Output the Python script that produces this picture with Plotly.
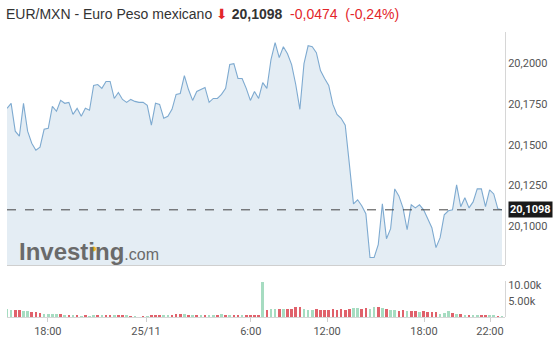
import plotly.graph_objects as go

W, H = 555, 338

# ---------------- data ----------------
price = [
    20.1724, 20.1755, 20.1583, 20.1552, 20.1755, 20.1583, 20.1509, 20.1466, 20.1485, 20.1595,
    20.1601, 20.1736, 20.1706, 20.1773, 20.1755, 20.1761, 20.1687, 20.1724, 20.1675, 20.1724,
    20.1712, 20.1865, 20.1871, 20.1847, 20.1890, 20.1890, 20.1785, 20.1822, 20.1779, 20.1761,
    20.1779, 20.1767, 20.1761, 20.1761, 20.1742, 20.1620, 20.1755, 20.1748, 20.1663, 20.1675,
    20.1718, 20.1810, 20.1816, 20.1926, 20.1840, 20.1773, 20.1828, 20.1840, 20.1853, 20.1761,
    20.1785, 20.1785, 20.1810, 20.1847, 20.1994, 20.2000, 20.1908, 20.1908, 20.1847, 20.1773,
    20.1828, 20.1785, 20.1883, 20.1847, 20.2025, 20.2129, 20.2037, 20.2104, 20.2061, 20.1994,
    20.1871, 20.1718, 20.2000, 20.2110, 20.2104, 20.2067, 20.1957, 20.1908, 20.1865, 20.1748,
    20.1687, 20.1663, 20.1620, 20.1380, 20.1135, 20.1160, 20.1123, 20.1074, 20.0804, 20.0804,
    20.0883, 20.1135, 20.0920, 20.0982, 20.1227, 20.1184, 20.1110, 20.0975, 20.1129, 20.1110,
    20.1129, 20.1098, 20.1043, 20.0988, 20.0865, 20.0926, 20.1067, 20.1092, 20.1098, 20.1252,
    20.1117, 20.1172, 20.1110, 20.1147, 20.1227, 20.1227, 20.1117, 20.1221, 20.1196, 20.1104,
    20.1098,
]

volume_k = [
    2.3, 2.2, 2.0, 2.1, 1.9, 1.8, 1.6, 1.4, 1.2, 1.0, 0.9,
    0.9, 0.8, 0.9, 0.7, 0.6, 0.4, 0.3, 0.2, 0.3, 0.2,
    0.3, 0.4, 0.3, 0.5, 0.4, 0.3, 0.5, 0.4, 0.3, 0.2, 0.1, 0.0, 0.1, 0.2,
    0.4, 0.5, 0.3, 0.4, 0.5, 0.6, 0.8, 1.0, 0.9, 0.7, 0.6, 0.5, 0.4, 0.5, 0.6, 0.4,
    0.7, 0.8, 0.6, 0.5, 0.7, 0.6, 0.5, 0.6, 0.7, 0.5, 0.6,
    10.8,
    2.2, 2.6, 2.6, 2.4, 2.5, 2.4, 2.6, 3.1, 3.0, 2.4,
    2.0, 2.2, 2.3, 2.1, 2.2, 2.2, 2.3, 2.1, 2.4, 2.2,
    2.6, 2.8, 2.9, 2.6, 2.9, 2.6, 3.2, 3.0, 2.9, 2.3,
    2.0, 2.1, 1.8, 2.0, 1.7, 1.9, 1.8, 1.6, 1.7, 1.5,
    1.6, 1.4, 1.0, 1.3, 1.7, 1.1, 0.9, 0.8, 0.6, 0.7,
    0.5, 0.7, 0.5, 0.4, 0.3, 0.3, 0.2, 0.2,
]

volume_dir = ("ggrrggrrrg" "gggrgrgrgr" "ggrgrrgrrg" "rgrrgrrrgg" "rrrgrgrgrg"
              "grgrgrrgrr" "rr" "g" "rggrgrrrrg" "ggrrrrrrrr" "rggrrggrgr"
              "ggrrgrrgrr" "rrgggrgrgr" "ggrrggrg")

last_price = 20.1098
price_ticks = [20.1000, 20.1250, 20.1500, 20.1750, 20.2000]
price_tick_labels = ["20,1000", "20,1250", "20,1500", "20,1750", "20,2000"]
volume_ticks = [5.0, 10.0]
volume_tick_labels = ["5.00k", "10.00k"]
time_tick_pos = [9.9, 33.7, 59.1, 77.6, 101.1, 117.1]
time_tick_labels = ["18:00", "25/11", "6:00", "12:00", "18:00", "22:00"]

assert len(price) == len(volume_k) == len(volume_dir)
idx = list(range(len(price)))

# ---------------- layout geometry ----------------
x0, x1 = 7 / W, 505 / W
price_dom = [(H - 265) / H, (H - 30) / H]
vol_dom = [(H - 317) / H, (H - 281) / H]
xrange = [0, 120.73]

GREEN = "#a6dcc1"
RED = "#e0616b"
bar_colors = [GREEN if c == "g" else RED for c in volume_dir]

fig = go.Figure()
fig.add_trace(go.Scatter(
    x=idx, y=price, mode="lines", xaxis="x", yaxis="y",
    line=dict(color="#7eaad0", width=1.1),
    fill="tozeroy", fillcolor="#e4edf4", hoverinfo="skip",
))
fig.add_trace(go.Bar(
    x=idx, y=volume_k, xaxis="x2", yaxis="y2",
    marker=dict(color=bar_colors, line=dict(width=0)), width=0.62,
    hoverinfo="skip",
))

axis_font = dict(family="Roboto, Arial, sans-serif", size=11, color="#555555")

fig.update_layout(
    width=W, height=H, margin=dict(l=0, r=0, t=0, b=0),
    paper_bgcolor="white", plot_bgcolor="white", showlegend=False,
    xaxis=dict(domain=[x0, x1], range=xrange, anchor="y", showgrid=False,
               zeroline=False, showticklabels=False, showline=True,
               linecolor="#cfcfcf", linewidth=1, ticks=""),
    yaxis=dict(domain=price_dom, range=[20.0755, 20.2196], side="right",
               anchor="free", position=x1, showgrid=False, zeroline=False,
               tickvals=price_ticks, ticktext=price_tick_labels,
               tickfont=axis_font, showline=True, linecolor="#d6d6d6",
               linewidth=1, ticks=""),
    xaxis2=dict(domain=[x0, x1], range=xrange, anchor="y2", showgrid=False,
                zeroline=False, tickvals=time_tick_pos, ticktext=time_tick_labels,
                tickfont=axis_font, showline=True, linecolor="#d6d6d6",
                linewidth=1, ticks="outside", ticklen=4, tickcolor="#cfcfcf"),
    yaxis2=dict(domain=vol_dom, range=[0, 11.25], side="right",
                anchor="free", position=x1, showgrid=False, zeroline=False,
                tickvals=volume_ticks, ticktext=volume_tick_labels,
                tickfont=axis_font, showline=True, linecolor="#d6d6d6",
                linewidth=1, ticks=""),
    bargap=0,
)

# last price dashed line
fig.add_shape(type="line", xref="paper", yref="y", x0=x0, x1=x1,
              y0=last_price, y1=last_price,
              line=dict(color="#444444", width=1, dash="dash"))
fig.add_annotation(xref="paper", yref="y", x=x1 + 3 / W, y=last_price,
                   xanchor="left", yanchor="middle", showarrow=False,
                   text="<b>20,1098</b>", bgcolor="#1a1a1a", borderpad=1,
                   font=dict(family="Roboto, Arial, sans-serif", size=11, color="white"))

# title
RED_T = "#e3262b"
fig.add_annotation(
    xref="paper", yref="paper", x=4 / W, y=(H - 12) / H, xanchor="left",
    yanchor="middle", showarrow=False,
    text=("EUR/MXN - Euro Peso mexicano "
          f"<span style='color:{RED_T};font-family:DejaVu Sans'>⬇</span> "
          "<b>20,1098</b>  "
          f"<span style='color:{RED_T}'>-0,0474  (-0,24%)</span>"),
    font=dict(family="Liberation Sans, Arial, sans-serif", size=14, color="#333333"),
)

# logo
fig.add_annotation(
    xref="paper", yref="paper", x=17 / W, y=(H - 267) / H, xanchor="left",
    yanchor="bottom", showarrow=False,
    text=("<b>Investing</b><span style='font-size:16px'>.com</span>"),
    font=dict(family="Liberation Sans, Arial, sans-serif", size=24, color="#6a6a6a"),
)
fig.add_shape(type="circle", xref="paper", yref="paper",
              x0=91 / W, x1=96 / W, y0=(H - 251) / H, y1=(H - 246) / H,
              fillcolor="#f5b324", line=dict(width=0))

fig.write_html("out.html")
